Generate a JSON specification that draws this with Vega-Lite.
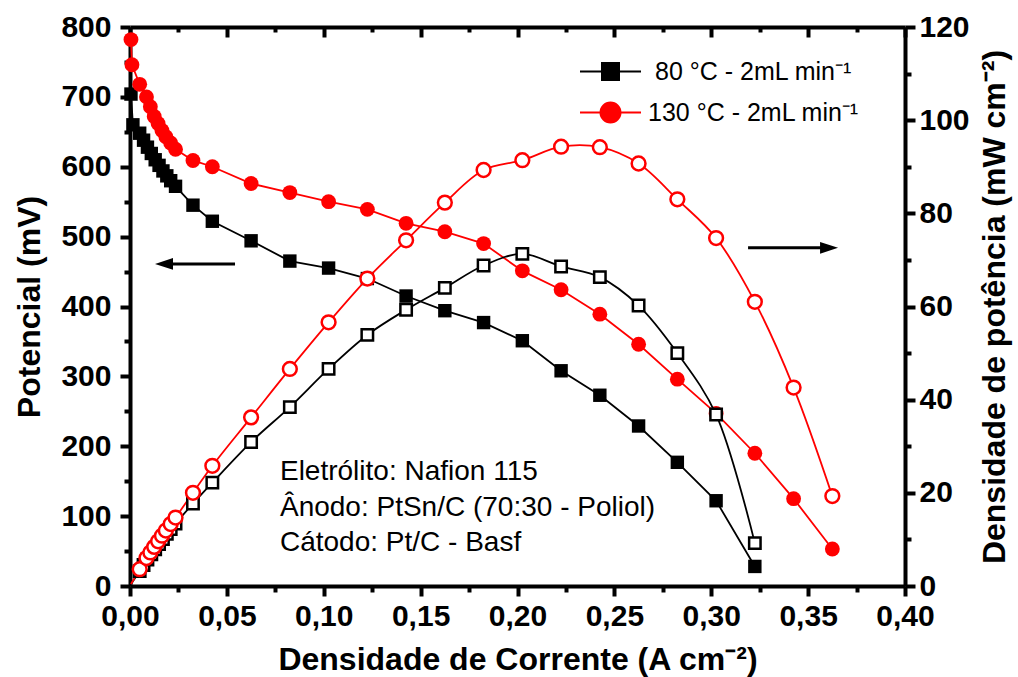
{
  "$schema": "https://vega.github.io/schema/vega-lite/v6.json",
  "width": 775,
  "height": 559,
  "autosize": "none",
  "padding": {"left": 130, "top": 27, "right": 113, "bottom": 91},
  "background": "white",
  "config": {
    "view": {"stroke": null},
    "font": "Liberation Sans",
    "axis": {
      "domainColor": "black", "domainWidth": 4, "tickColor": "black", "tickWidth": 4,
      "labelFont": "Liberation Sans", "labelFontWeight": "bold", "labelFontSize": 30, "labelColor": "black",
      "titleFont": "Liberation Sans", "titleFontWeight": "bold", "titleFontSize": 32, "titleColor": "black",
      "grid": false
    }
  },
  "datasets": {
    "d": [
      {"s": "80", "I": 0.0005, "V": 704, "P": 0.35},
      {"s": "80", "I": 0.0015, "V": 660, "P": 1.0},
      {"s": "80", "I": 0.005, "V": 648, "P": 3.2},
      {"s": "80", "I": 0.007, "V": 638, "P": 4.5},
      {"s": "80", "I": 0.009, "V": 628, "P": 5.7},
      {"s": "80", "I": 0.011, "V": 619, "P": 6.8},
      {"s": "80", "I": 0.013, "V": 610, "P": 7.9},
      {"s": "80", "I": 0.015, "V": 602, "P": 9.0},
      {"s": "80", "I": 0.017, "V": 594, "P": 10.1},
      {"s": "80", "I": 0.019, "V": 587, "P": 11.2},
      {"s": "80", "I": 0.021, "V": 580, "P": 12.2},
      {"s": "80", "I": 0.0235, "V": 572, "P": 13.4},
      {"s": "80", "I": 0.0325, "V": 545, "P": 17.7},
      {"s": "80", "I": 0.0425, "V": 522, "P": 22.2},
      {"s": "80", "I": 0.0625, "V": 494, "P": 30.9},
      {"s": "80", "I": 0.0825, "V": 465, "P": 38.4},
      {"s": "80", "I": 0.1025, "V": 455, "P": 46.6},
      {"s": "80", "I": 0.1225, "V": 440, "P": 53.9},
      {"s": "80", "I": 0.1425, "V": 415, "P": 59.3},
      {"s": "80", "I": 0.1625, "V": 394, "P": 64.0},
      {"s": "80", "I": 0.1825, "V": 377, "P": 68.8},
      {"s": "80", "I": 0.2025, "V": 351, "P": 71.3},
      {"s": "80", "I": 0.2225, "V": 308, "P": 68.6},
      {"s": "80", "I": 0.2425, "V": 273, "P": 66.3},
      {"s": "80", "I": 0.2625, "V": 229, "P": 60.2},
      {"s": "80", "I": 0.2825, "V": 177, "P": 50.0},
      {"s": "80", "I": 0.3025, "V": 122, "P": 36.8},
      {"s": "80", "I": 0.3225, "V": 28, "P": 9.2},
      {"s": "130", "I": 0.0005, "V": 782, "P": 0.4},
      {"s": "130", "I": 0.001, "V": 746, "P": 0.75},
      {"s": "130", "I": 0.005, "V": 718, "P": 3.6},
      {"s": "130", "I": 0.0085, "V": 700, "P": 6.0},
      {"s": "130", "I": 0.0105, "V": 686, "P": 7.2},
      {"s": "130", "I": 0.0125, "V": 672, "P": 8.4},
      {"s": "130", "I": 0.0145, "V": 662, "P": 9.6},
      {"s": "130", "I": 0.0165, "V": 652, "P": 10.8},
      {"s": "130", "I": 0.0185, "V": 643, "P": 11.9},
      {"s": "130", "I": 0.021, "V": 634, "P": 13.3},
      {"s": "130", "I": 0.0235, "V": 625, "P": 14.7},
      {"s": "130", "I": 0.0325, "V": 609, "P": 20.0},
      {"s": "130", "I": 0.0425, "V": 600, "P": 25.8},
      {"s": "130", "I": 0.0625, "V": 576, "P": 36.2},
      {"s": "130", "I": 0.0825, "V": 563, "P": 46.6},
      {"s": "130", "I": 0.1025, "V": 550, "P": 56.6},
      {"s": "130", "I": 0.1225, "V": 539, "P": 66.0},
      {"s": "130", "I": 0.1425, "V": 519, "P": 74.2},
      {"s": "130", "I": 0.1625, "V": 507, "P": 82.3},
      {"s": "130", "I": 0.1825, "V": 490, "P": 89.3},
      {"s": "130", "I": 0.2025, "V": 451, "P": 91.4},
      {"s": "130", "I": 0.2225, "V": 424, "P": 94.3},
      {"s": "130", "I": 0.2425, "V": 389, "P": 94.2},
      {"s": "130", "I": 0.2625, "V": 346, "P": 90.7},
      {"s": "130", "I": 0.2825, "V": 296, "P": 83.0},
      {"s": "130", "I": 0.3025, "V": 247, "P": 74.7},
      {"s": "130", "I": 0.3225, "V": 190, "P": 61.0},
      {"s": "130", "I": 0.3425, "V": 125, "P": 42.6},
      {"s": "130", "I": 0.3625, "V": 53, "P": 19.3}
    ]
  },
  "layer": [
    {
      "data": {"name": "d"},
      "encoding": {
        "x": {
          "field": "I", "type": "quantitative",
          "scale": {"domain": [0, 0.4], "nice": false, "zero": false},
          "axis": {
            "orient": "bottom",
            "values": [0, 0.025, 0.05, 0.075, 0.1, 0.125, 0.15, 0.175, 0.2, 0.225, 0.25, 0.275, 0.3, 0.325, 0.35, 0.375, 0.4],
            "labelExpr": "round(datum.value*1000) % 50 == 0 ? replace(format(datum.value, '.2f'), '.', ',') : ''",
            "tickSize": {"condition": {"test": "round(datum.value*1000) % 50 == 0", "value": 10}, "value": 6},
            "labelPadding": 5,
            "labelFlush": false,
            "labelOverlap": false,
            "title": "Densidade de Corrente (A cm⁻²)",
            "titlePadding": 13
          }
        },
        "y": {
          "field": "V", "type": "quantitative",
          "scale": {"domain": [0, 800], "nice": false},
          "axis": {
            "orient": "left",
            "values": [0, 50, 100, 150, 200, 250, 300, 350, 400, 450, 500, 550, 600, 650, 700, 750, 800],
            "labelExpr": "datum.value % 100 == 0 ? datum.label : ''",
            "tickSize": {"condition": {"test": "datum.value % 100 == 0", "value": 10}, "value": 6},
            "labelPadding": 9,
            "labelOverlap": false,
            "labelFlush": false,
            "title": "Potencial (mV)",
            "titlePadding": 14
          }
        }
      },
      "layer": [
        {
          "mark": {"type": "line", "strokeWidth": 1.8},
          "encoding": {
            "stroke": {"field": "s", "type": "nominal", "scale": {"domain": ["80", "130"], "range": ["#000000", "#ff0000"]}, "legend": null}
          }
        },
        {
          "transform": [{"filter": "datum.s == '80'"}],
          "mark": {"type": "point", "shape": "square", "filled": true, "fill": "#000000", "opacity": 1, "size": 180}
        },
        {
          "transform": [{"filter": "datum.s == '130'"}],
          "mark": {"type": "point", "shape": "circle", "filled": true, "fill": "#ff0000", "opacity": 1, "size": 220}
        },
        {
          "transform": [{"filter": "datum.s == '80' && datum.I == 0.0005"}],
          "mark": {"type": "text", "align": "left", "baseline": "middle", "fontSize": 28, "font": "Liberation Sans", "lineHeight": 35.5, "color": "black"},
          "encoding": {
            "x": {"datum": 0.0774, "type": "quantitative"},
            "y": {"datum": 163, "type": "quantitative"},
            "text": {"value": ["Eletrólito: Nafion 115", "Ânodo: PtSn/C (70:30 - Poliol)", "Cátodo: Pt/C - Basf"]}
          }
        },
        {
          "transform": [{"filter": "datum.s == '80' && datum.I == 0.0005"}],
          "mark": {"type": "rule", "strokeWidth": 3, "color": "black"},
          "encoding": {
            "x": {"datum": 0.016, "type": "quantitative"},
            "x2": {"datum": 0.0542},
            "y": {"datum": 461, "type": "quantitative"}
          }
        },
        {
          "transform": [{"filter": "datum.s == '80' && datum.I == 0.0005"}],
          "mark": {"type": "point", "shape": "M -1 0 L 1 -0.65 L 1 0.65 Z", "filled": true, "fill": "black", "opacity": 1, "size": 324},
          "encoding": {
            "x": {"datum": 0.01755, "type": "quantitative"},
            "y": {"datum": 461, "type": "quantitative"}
          }
        },
        {
          "transform": [{"filter": "datum.s == '80' && datum.I == 0.0005"}],
          "mark": {"type": "rule", "strokeWidth": 3, "color": "black"},
          "encoding": {
            "x": {"datum": 0.319, "type": "quantitative"},
            "x2": {"datum": 0.362},
            "y": {"datum": 484, "type": "quantitative"}
          }
        },
        {
          "transform": [{"filter": "datum.s == '80' && datum.I == 0.0005"}],
          "mark": {"type": "point", "shape": "M 1 0 L -1 -0.65 L -1 0.65 Z", "filled": true, "fill": "black", "opacity": 1, "size": 324},
          "encoding": {
            "x": {"datum": 0.3608, "type": "quantitative"},
            "y": {"datum": 484, "type": "quantitative"}
          }
        }
      ]
    },
    {
      "data": {"name": "d"},
      "encoding": {
        "x": {
          "field": "I", "type": "quantitative",
          "scale": {"domain": [0, 0.4], "nice": false, "zero": false},
          "axis": {
            "orient": "top",
            "values": [0, 0.025, 0.05, 0.075, 0.1, 0.125, 0.15, 0.175, 0.2, 0.225, 0.25, 0.275, 0.3, 0.325, 0.35, 0.375, 0.4],
            "labels": false,
            "tickSize": {"condition": {"test": "round(datum.value*1000) % 50 == 0", "value": -10}, "value": -5},
            "title": null
          }
        },
        "y": {
          "field": "P", "type": "quantitative",
          "scale": {"domain": [0, 120], "nice": false},
          "axis": {
            "orient": "right",
            "values": [0, 10, 20, 30, 40, 50, 60, 70, 80, 90, 100, 110, 120],
            "labelExpr": "datum.value % 20 == 0 ? datum.label : ''",
            "tickSize": {"condition": {"test": "datum.value % 20 == 0", "value": 10}, "value": 6},
            "labelPadding": 4,
            "labelOverlap": false,
            "labelFlush": false,
            "title": "Densidade de potência (mW cm⁻²)",
            "titleAngle": 270,
            "titleBaseline": "top",
            "titlePadding": 10
          }
        }
      },
      "layer": [
        {
          "mark": {"type": "line", "strokeWidth": 1.8, "interpolate": "catmull-rom"},
          "encoding": {
            "stroke": {"field": "s", "type": "nominal", "scale": {"domain": ["80", "130"], "range": ["#000000", "#ff0000"]}, "legend": null}
          }
        },
        {
          "transform": [{"filter": "datum.s == '80' && datum.I > 0.002"}],
          "mark": {"type": "point", "shape": "square", "filled": true, "fill": "white", "stroke": "#000000", "strokeWidth": 2.5, "opacity": 1, "size": 130}
        },
        {
          "transform": [{"filter": "datum.s == '130' && datum.I > 0.002"}],
          "mark": {"type": "point", "shape": "circle", "filled": true, "fill": "white", "stroke": "#ff0000", "strokeWidth": 2.5, "opacity": 1, "size": 190}
        }
      ]
    },
    {
      "data": {"values": [{"lab": "80 °C - 2mL min⁻¹"}, {"lab": "130 °C - 2mL min⁻¹"}]},
      "mark": {"type": "point", "filled": true, "opacity": 0},
      "encoding": {
        "color": {
          "field": "lab", "type": "nominal",
          "scale": {"domain": ["80 °C - 2mL min⁻¹", "130 °C - 2mL min⁻¹"], "range": ["#000000", "#ff0000"]},
          "legend": {
            "orient": "none", "legendX": 468, "legendY": 32, "title": null, "padding": 0,
            "symbolSize": 400, "symbolStrokeWidth": 2, "symbolOpacity": 1,
            "labelFont": "Liberation Sans", "labelFontSize": 25, "labelColor": "black", "labelOffset": 25, "rowPadding": 13, "labelLimit": 400,
            "encode": {
              "symbols": {"update": {
                "fill": {"signal": "indexof(datum.value, '130') >= 0 ? '#ff0000' : '#000000'"},
                "stroke": {"signal": "indexof(datum.value, '130') >= 0 ? '#ff0000' : '#000000'"},
                "opacity": {"value": 1}
              }},
              "labels": {"update": {
                "dx": {"signal": "indexof(datum.value, '130') >= 0 ? 0 : 7"}
              }}
            }
          }
        },
        "shape": {
          "field": "lab", "type": "nominal",
          "scale": {"domain": ["80 °C - 2mL min⁻¹", "130 °C - 2mL min⁻¹"], "range": ["M -3.05 0 H -0.85 M 0.85 0 H 3.05 M -0.85 -0.85 H 0.85 V 0.85 H -0.85 Z", "M -3.05 0 H -1 M 1 0 H 3.05 M -1 0 A 1 1 0 1 0 1 0 A 1 1 0 1 0 -1 0 Z"]},
          "legend": {
            "orient": "none", "legendX": 468, "legendY": 32, "title": null, "padding": 0,
            "symbolSize": 400, "symbolStrokeWidth": 2, "symbolOpacity": 1,
            "labelFont": "Liberation Sans", "labelFontSize": 25, "labelColor": "black", "labelOffset": 25, "rowPadding": 13, "labelLimit": 400
          }
        }
      }
    }
  ],
  "resolve": {
    "scale": {"y": "independent"},
    "axis": {"x": "independent", "y": "independent"}
  }
}
